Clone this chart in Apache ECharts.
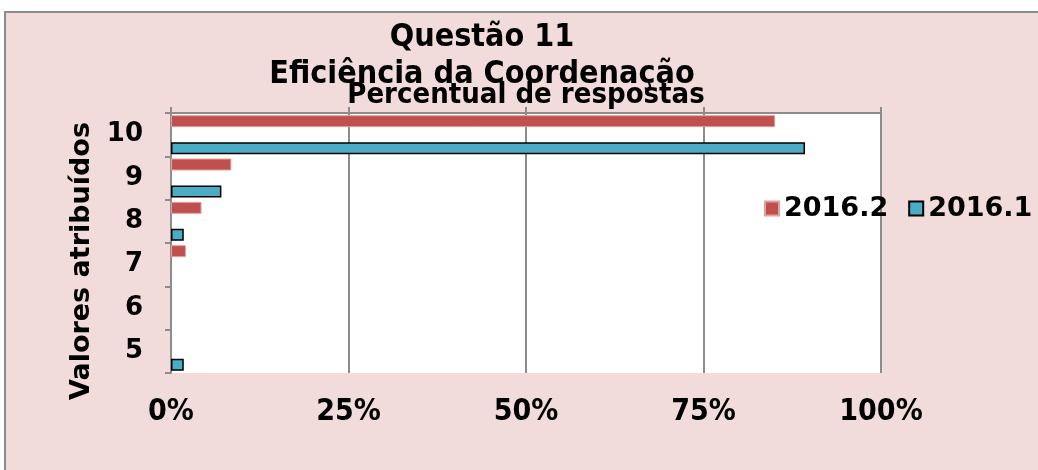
<!DOCTYPE html>
<html>
<head>
<meta charset="utf-8">
<script src="https://cdn.jsdelivr.net/npm/echarts@6/dist/echarts.min.js"></script>
<style>
  html, body { margin: 0; padding: 0; background: #fff; }
  #grafica { width: 1038px; height: 470px; }
</style>
</head>
<body>
<div id="grafica"></div>
<script>
// valores atribuidos (de baixo para cima)
const categorias = ['5', '6', '7', '8', '9', '10'];
// percentual de respostas
const valores20161 = [1.8, 0, 0, 1.8, 7.1, 89.3];
const valores20162 = [0, 0, 2.1, 4.3, 8.5, 85.1];
const ticksX = [0, 25, 50, 75, 100];

const cinza = '#8c8c8c';

// barras com 0% nao aparecem
const semZero = (arr) => arr.map(v => (v === 0 ? null : v));

const getOption = () =>
{
  return {
    backgroundColor: '#fff',
    animation: false,
    graphic: {
      z: -10,
      elements: [{
        type: 'rect',
        z: -10,
        shape: { x: 5, y: 12, width: 1100, height: 520 },
        style: { fill: '#f2dcdb', stroke: cinza, lineWidth: 2 }
      }]
    },
    title: {
      text: 'Questão 11\nEficiência da Coordenação',
      left: 477,
      top: 14,
      textAlign: 'center',
      textStyle: {
        fontFamily: 'DejaVu Sans Condensed',
        fontWeight: 'bold',
        fontSize: 32,
        lineHeight: 37,
        color: '#000'
      }
    },
    legend: {
      data: ['2016.2', '2016.1'],
      orient: 'horizontal',
      left: 764,
      top: 195,
      width: 320,
      padding: 0,
      icon: 'rect',
      itemWidth: 14,
      itemHeight: 14,
      itemGap: 20,
      textStyle: {
        fontFamily: 'DejaVu Sans',
        fontWeight: 'bold',
        fontSize: 27,
        color: '#000'
      }
    },
    grid: {
      left: 171,
      right: 157,
      top: 113,
      bottom: 97,
      show: true,
      backgroundColor: '#fff',
      borderWidth: 0
    },
    xAxis: [
      {
        type: 'value',
        position: 'top',
        min: ticksX[0],
        max: ticksX[ticksX.length - 1],
        interval: 25,
        name: 'Percentual de respostas',
        nameLocation: 'middle',
        nameGap: 3,
        nameTextStyle: {
          fontFamily: 'DejaVu Sans Condensed',
          fontWeight: 'bold',
          fontSize: 29,
          color: '#000'
        },
        axisLine: { show: true, lineStyle: { color: cinza, width: 2 } },
        axisTick: { show: true, length: 6, lineStyle: { color: cinza, width: 2 } },
        axisLabel: { show: false },
        splitLine: { show: true, lineStyle: { color: cinza, width: 2 } }
      },
      {
        type: 'value',
        position: 'bottom',
        min: ticksX[0],
        max: ticksX[ticksX.length - 1],
        interval: 25,
        axisLine: { show: false },
        axisTick: { show: false },
        splitLine: { show: false },
        axisLabel: {
          margin: 24,
          formatter: '{value}%',
          fontFamily: 'DejaVu Sans Condensed',
          fontWeight: 'bold',
          fontSize: 30,
          color: '#000'
        }
      }
    ],
    yAxis: {
      type: 'category',
      data: categorias,
      name: 'Valores atribuídos',
      nameLocation: 'middle',
      nameRotate: 90,
      nameGap: 66,
      nameTextStyle: {
        fontFamily: 'DejaVu Sans',
        fontWeight: 'bold',
        fontSize: 27,
        color: '#000',
        padding: [0, 36, 0, 0]
      },
      axisLine: { show: true, lineStyle: { color: cinza, width: 2 } },
      axisTick: { show: true, length: 6, lineStyle: { color: cinza, width: 2 } },
      axisLabel: {
        margin: 28,
        fontFamily: 'DejaVu Sans',
        fontWeight: 'bold',
        fontSize: 26,
        color: '#000'
      },
      splitLine: { show: false }
    },
    series: [
      {
        name: '2016.2',
        type: 'bar',
        data: semZero(valores20162),
        barGap: '125%',
        barCategoryGap: '10%',
        itemStyle: { color: '#c0504d', borderColor: '#e3a09e', borderWidth: 1 }
      },
      {
        name: '2016.1',
        type: 'bar',
        data: semZero(valores20161),
        itemStyle: { color: '#4bacc6', borderColor: '#000', borderWidth: 1.5 }
      }
    ]
  };
};

const initCharts = () =>
{
  const chart = echarts.init(document.getElementById('grafica'));
  chart.setOption(getOption());
};

initCharts();
</script>
</body>
</html>
